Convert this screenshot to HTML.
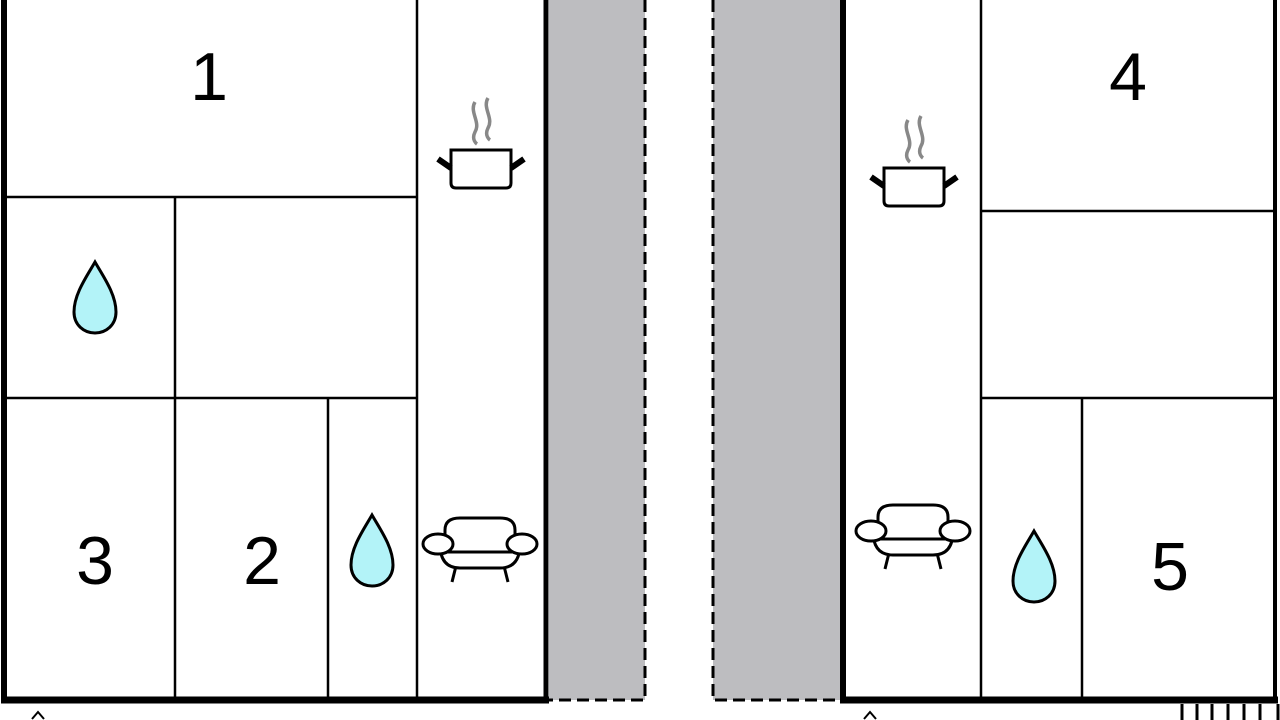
<!DOCTYPE html>
<html><head><meta charset="utf-8"><style>
html,body{margin:0;padding:0;background:#fff;width:1280px;height:720px;overflow:hidden}
text{font-family:"Liberation Sans",sans-serif;font-size:68px;fill:#000;text-anchor:middle}
</style></head><body>
<svg width="1280" height="720" viewBox="0 0 1280 720" xmlns="http://www.w3.org/2000/svg">
<defs>
<path id="drop" d="M0,0 C-8,14 -21,32 -21,50 C-21,63 -11,71 0,71 C11,71 21,63 21,50 C21,32 8,14 0,0Z" fill="#b3f3f8" stroke="#000" stroke-width="3"/>
<g id="pot">
<path d="M-30,0 H30 V33 Q30,38 25,38 H-25 Q-30,38 -30,33 Z" fill="#fff" stroke="#000" stroke-width="3"/>
<path d="M-30,18 L-43,9 M30,18 L43,9" stroke="#000" stroke-width="6"/>
<path d="M-6,-48 C-12,-38 0,-28 -6,-18 C-10,-10 -4,-6 -4,-6 M7,-52 C1,-42 13,-32 7,-22 C3,-14 9,-10 9,-10" stroke="#888" stroke-width="3.5" fill="none"/>
</g>
<g id="sofa" fill="#fff" stroke="#000" stroke-width="3">
<path d="M-24,48 L-28,64 M24,48 L28,64" />
<path d="M-40,26 Q-40,50 -20,50 H20 Q40,50 40,26 Z"/>
<path d="M-35,12 Q-35,0 -20,0 H20 Q35,0 35,12 V34 H-35 Z"/>
<ellipse cx="-42" cy="26" rx="15" ry="10"/>
<ellipse cx="42" cy="26" rx="15" ry="10"/>
</g>
</defs>
<rect x="549" y="0" width="96" height="700" fill="#bdbdc0"/>
<rect x="713" y="0" width="128" height="700" fill="#bdbdc0"/>
<path d="M645,0 V700 H549 M713,0 V700 H841" fill="none" stroke="#000" stroke-width="3" stroke-dasharray="12,6"/>
<g stroke="#000" fill="none">
<path d="M4,0 V700" stroke-width="6"/>
<path d="M1,700 H549" stroke-width="7"/>
<path d="M546,0 V700" stroke-width="5"/>
<g stroke-width="2.5">
<path d="M417,0 V700 M6,197 H417 M6,398 H417 M175,197 V700 M328,398 V700"/>
</g>
<path d="M843,0 V700" stroke-width="6"/>
<path d="M840,700 H1278" stroke-width="7"/>
<path d="M1275,0 V703" stroke-width="4"/>
<g stroke-width="2.5">
<path d="M981,0 V700 M981,211 H1275 M981,398 H1275 M1082,398 V700"/>
<path d="M1182,704 V720 M1197,704 V720 M1212,704 V720 M1228,704 V720 M1244,704 V720 M1260,704 V720 M1278,704 V720" stroke-width="3"/>
<path d="M32,719 L38,712 L44,719 M864,719 L870,712 L876,719" stroke-width="2"/>
</g>
</g>
<use href="#drop" x="95" y="262"/>
<use href="#drop" x="372" y="515"/>
<use href="#drop" x="1034" y="531"/>
<use href="#pot" x="481" y="150"/>
<use href="#pot" x="914" y="168"/>
<use href="#sofa" x="480" y="518"/>
<use href="#sofa" x="913" y="505"/>
<text x="209" y="100">1</text>
<text x="1128" y="100">4</text>
<text x="95" y="584">3</text>
<text x="262" y="584">2</text>
<text x="1170" y="590">5</text>
</svg>
</body></html>
